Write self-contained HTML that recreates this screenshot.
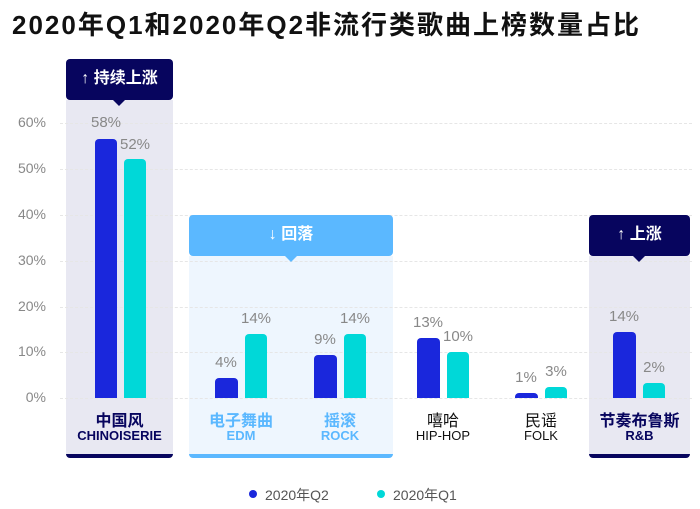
<!DOCTYPE html>
<html><head><meta charset="utf-8"><style>
body{margin:0;width:700px;height:509px;background:#fff;overflow:hidden;font-family:"Liberation Sans","Noto Sans CJK SC",sans-serif;position:relative}
.a{position:absolute}
.t{left:12px;top:5px;font-size:26px;font-weight:bold;color:#111;letter-spacing:2px;white-space:nowrap}
.yl{width:46px;text-align:right;font-size:14px;color:#888;left:0}
.g{left:60px;width:632px;border-top:1px dashed #e6e6e6;height:0}
.b{border-radius:4px 4px 0 0}
.q2{background:#1a27dc}.q1{background:#00d8d8}
.v{font-size:15px;color:#888;text-align:center;width:50px}
.cn{font-size:16px;font-weight:bold;text-align:center}
.en{font-size:13px;text-align:center}
.box{color:#fff;font-size:16px;font-weight:bold;text-align:center;line-height:40px;border-radius:4px}
.tri{width:0;height:0;border-left:6px solid transparent;border-right:6px solid transparent}
</style></head><body>
<div class="a t">2020年Q1和2020年Q2非流行类歌曲上榜数量占比</div>
<div class="a" style="left:66px;top:100px;width:107px;height:358px;background:#e8e8f2;border-radius:0 0 4px 4px;border-bottom:4px solid #07055e;box-sizing:border-box"></div>
<div class="a" style="left:189px;top:256px;width:204px;height:202px;background:#eef6fe;border-radius:0 0 4px 4px;border-bottom:4px solid #5bb8ff;box-sizing:border-box"></div>
<div class="a" style="left:589px;top:256px;width:101px;height:202px;background:#e8e8f2;border-radius:0 0 4px 4px;border-bottom:4px solid #07055e;box-sizing:border-box"></div>
<div class="a g" style="top:123px"></div><div class="a g" style="top:169px"></div><div class="a g" style="top:215px"></div><div class="a g" style="top:261px"></div><div class="a g" style="top:307px"></div><div class="a g" style="top:352px"></div><div class="a g" style="top:398px"></div>
<div class="a yl" style="top:114px">60%</div><div class="a yl" style="top:160px">50%</div><div class="a yl" style="top:206px">40%</div><div class="a yl" style="top:252px">30%</div><div class="a yl" style="top:298px">20%</div><div class="a yl" style="top:343px">10%</div><div class="a yl" style="top:389px">0%</div>
<div class="a box" style="left:66px;top:59px;width:107px;height:41px;background:#07055e">↑ 持续上涨</div>
<div class="a tri" style="left:113px;top:100px;border-top:6px solid #07055e"></div>
<div class="a box" style="left:189px;top:215px;width:204px;height:41px;background:#5bb8ff">↓ 回落</div>
<div class="a tri" style="left:285px;top:256px;border-top:6px solid #5bb8ff"></div>
<div class="a box" style="left:589px;top:215px;width:101px;height:41px;background:#07055e">↑ 上涨</div>
<div class="a tri" style="left:633px;top:256px;border-top:6px solid #07055e"></div>
<div class="a b q2" style="left:95px;top:139px;width:22px;height:259px"></div><div class="a b q1" style="left:124px;top:159px;width:22px;height:239px"></div>
<div class="a v" style="left:81px;top:114px">58%</div><div class="a v" style="left:110px;top:136px">52%</div>
<div class="a b q2" style="left:215px;top:378px;width:23px;height:20px"></div><div class="a b q1" style="left:245px;top:334px;width:22px;height:64px"></div>
<div class="a v" style="left:201px;top:354px">4%</div><div class="a v" style="left:231px;top:310px">14%</div>
<div class="a b q2" style="left:314px;top:355px;width:23px;height:43px"></div><div class="a b q1" style="left:344px;top:334px;width:22px;height:64px"></div>
<div class="a v" style="left:300px;top:331px">9%</div><div class="a v" style="left:330px;top:310px">14%</div>
<div class="a b q2" style="left:417px;top:338px;width:23px;height:60px"></div><div class="a b q1" style="left:447px;top:352px;width:22px;height:46px"></div>
<div class="a v" style="left:403px;top:314px">13%</div><div class="a v" style="left:433px;top:328px">10%</div>
<div class="a b q2" style="left:515px;top:393px;width:23px;height:5px"></div><div class="a b q1" style="left:545px;top:387px;width:22px;height:11px"></div>
<div class="a v" style="left:501px;top:369px">1%</div><div class="a v" style="left:531px;top:363px">3%</div>
<div class="a b q2" style="left:613px;top:332px;width:23px;height:66px"></div><div class="a b q1" style="left:643px;top:383px;width:22px;height:15px"></div>
<div class="a v" style="left:599px;top:308px">14%</div><div class="a v" style="left:629px;top:359px">2%</div>
<div class="a cn" style="left:66px;width:107px;top:407px;color:#07055e">中国风</div><div class="a en" style="left:60px;width:119px;top:428px;color:#07055e;font-weight:bold">CHINOISERIE</div>
<div class="a cn" style="left:191px;width:100px;top:407px;color:#5bb8ff">电子舞曲</div><div class="a en" style="left:191px;width:100px;top:428px;color:#5bb8ff;font-weight:bold">EDM</div>
<div class="a cn" style="left:290px;width:100px;top:407px;color:#5bb8ff">摇滚</div><div class="a en" style="left:290px;width:100px;top:428px;color:#5bb8ff;font-weight:bold">ROCK</div>
<div class="a cn" style="left:393px;width:100px;top:407px;color:#111;font-weight:normal">嘻哈</div><div class="a en" style="left:393px;width:100px;top:428px;color:#111">HIP-HOP</div>
<div class="a cn" style="left:491px;width:100px;top:407px;color:#111;font-weight:normal">民谣</div><div class="a en" style="left:491px;width:100px;top:428px;color:#111">FOLK</div>
<div class="a cn" style="left:589px;width:101px;top:407px;color:#07055e">节奏布鲁斯</div><div class="a en" style="left:589px;width:101px;top:428px;color:#07055e;font-weight:bold">R&amp;B</div>
<div class="a" style="left:249px;top:490px;width:8px;height:8px;border-radius:50%;background:#1a27dc"></div>
<div class="a" style="left:265px;top:485px;font-size:14px;color:#555">2020年Q2</div>
<div class="a" style="left:377px;top:490px;width:8px;height:8px;border-radius:50%;background:#00d8d8"></div>
<div class="a" style="left:393px;top:485px;font-size:14px;color:#555">2020年Q1</div>
</body></html>
